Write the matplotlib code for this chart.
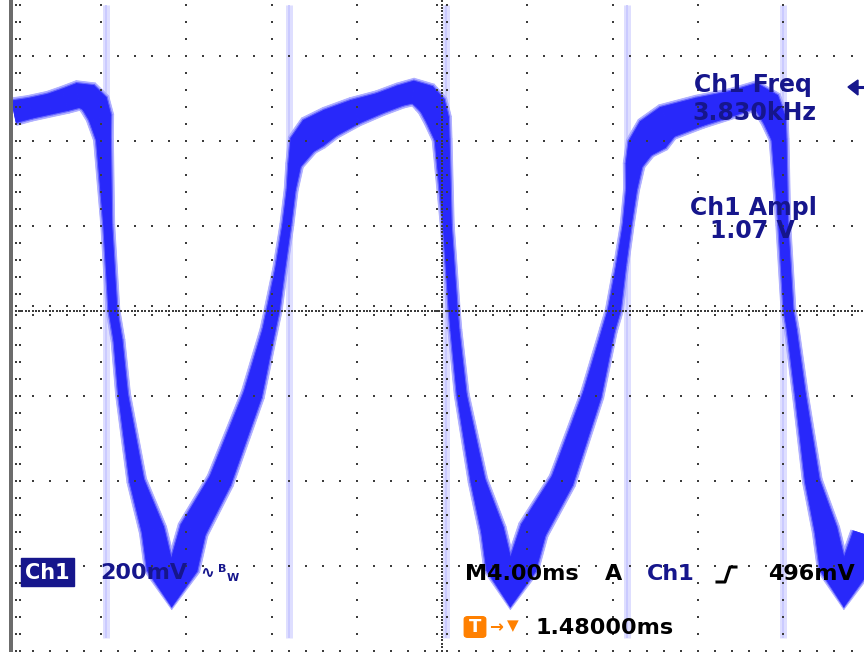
import numpy as np
import matplotlib
matplotlib.use("Agg")
import matplotlib.pyplot as plt
from matplotlib.collections import PolyCollection
from matplotlib.patches import Rectangle, Polygon, FancyBboxPatch
from matplotlib.lines import Line2D

# scope trace in divisions (4.00 ms/div, 200 mV/div)
trace_t = [-5.02, -4.83, -4.60, -4.42, -4.27, -4.15, -4.07, -4.01, -3.97, -3.92,
           -3.86, -3.80, -3.74, -3.58, -3.39, -3.31, -3.17, -3.03, -2.92, -2.60,
           -2.22, -2.03, -1.98, -1.90, -1.82, -1.77, -1.73, -1.64, -1.51, -1.31,
           -1.02, -0.73, -0.49, -0.34, -0.20, -0.11, -0.05, 0.00, 0.06, 0.13,
           0.15, 0.23, 0.42, 0.59, 0.67, 0.80, 0.94, 1.07, 1.41, 1.76,
           1.95, 2.02, 2.10, 2.17, 2.22, 2.25, 2.32, 2.47, 2.64, 3.02,
           3.41, 3.69, 3.81, 3.90, 3.95, 4.00, 4.06, 4.10, 4.20, 4.34,
           4.50, 4.58, 4.71, 4.85, 4.97]
trace_v = [2.34, 2.38, 2.43, 2.48, 2.53, 2.51, 2.43, 2.27, 2.01, 1.01,
           0.01, -0.35, -0.99, -2.00, -2.58, -3.01, -3.27, -3.01, -2.58, -2.00,
           -0.99, -0.23, 0.01, 0.48, 1.01, 1.42, 1.71, 1.95, 2.09, 2.21,
           2.34, 2.44, 2.53, 2.57, 2.51, 2.41, 2.24, 2.01, 1.01, 0.01,
           -0.23, -0.99, -2.00, -2.58, -3.01, -3.27, -3.01, -2.58, -2.00, -0.99,
           -0.23, 0.01, 0.54, 1.01, 1.42, 1.71, 1.91, 2.07, 2.22, 2.34,
           2.44, 2.53, 2.44, 2.24, 2.01, 1.01, 0.01, -0.23, -0.99, -2.00,
           -2.58, -3.01, -3.27, -3.01, -2.64]
# half width of the persistence band (screen px)
trace_spread = [11, 10, 10, 11, 12, 13, 13, 11, 7, 4,
                4, 4, 4.5, 7, 11, 13, 18, 14, 13, 11,
                9, 6, 6, 4.5, 4, 4, 6, 13, 16, 14,
                12, 10, 10, 11, 13, 13, 11, 7, 4, 4,
                4, 4.5, 7, 11, 13, 18, 14, 13, 11, 9,
                6, 6, 4.5, 4, 5, 8, 13, 18, 16, 14,
                12, 12, 13, 11, 7, 4.5, 4.5, 4.5, 5, 7,
                11, 13, 18, 14, 13]
# faint glitch traces
spike_t = [-3.94, -1.795, 0.046, 2.168, 3.996]

W, H = 864, 652
fig = plt.figure(figsize=(W / 100, H / 100), dpi=100)
ax = fig.add_axes([0, 0, 1, 1])
ax.set_xlim(-5.183, 4.946)
ax.set_ylim(-4.016, 3.654)
ax.axis("off")

navy = "#16168c"
orange = "#ff8000"
grid_c = "#3c3c3c"

# graticule
fine_x = np.arange(-5, 5.001, 0.2)
fine_y = np.arange(-4, 4.001, 0.2)
dot = dict(ls="none", marker="s", ms=1.5, mew=0, color=grid_c, zorder=6)
for gx in range(-5, 6):
    ax.plot(np.full_like(fine_y, gx), fine_y, **dot)
for gy in range(-4, 5):
    ax.plot(fine_x, np.full_like(fine_x, gy), **dot)
dense_x = np.arange(-5, 5.001, 0.04)
dense_y = np.arange(-4, 4.001, 0.04)
ax.plot(dense_x, np.zeros_like(dense_x), **dot)
ax.plot(np.zeros_like(dense_y), dense_y, **dot)
for off in (-0.055, 0.055):
    ax.plot(fine_x, np.full_like(fine_x, off), **dot)
    ax.plot(np.full_like(fine_y, off), fine_y, **dot)
ax.plot(np.full_like(fine_y, -4.95), fine_y, **dot)
ax.axvspan(-5.08, -5.025, color="#6c6c6c", lw=0, zorder=6)

# glitches
ax.vlines(spike_t, -3.85, 3.6, colors="#dedeff", lw=5, zorder=2)
ax.vlines(spike_t, -3.85, 3.6, colors="#c6c6ff", lw=1.2, zorder=2)


# persistence band: ribbon around the trace, widths in screen px
def band(spread_px, color, z):
    pts = ax.transData.transform(np.column_stack([trace_t, trace_v]))
    d = np.gradient(pts, axis=0)
    n = np.column_stack([-d[:, 1], d[:, 0]])
    n /= np.linalg.norm(n, axis=1)[:, None]
    lo = pts + n * spread_px[:, None]
    hi = pts - n * spread_px[:, None]
    inv = ax.transData.inverted()
    quads = [inv.transform(np.array([lo[i], lo[i + 1], hi[i + 1], hi[i]]))
             for i in range(len(pts) - 1)]
    ax.add_collection(PolyCollection(quads, facecolors=color, edgecolors=color,
                                     linewidths=0.6, zorder=z))


hw = np.asarray(trace_spread, dtype=float)
band(hw + 3, "#acacff", 3)
band(hw + 1.2, "#6464ff", 3.5)
band(hw, "#2828fa", 4)


def put(px, py, s, **kw):
    kw.setdefault("va", "baseline")
    kw.setdefault("zorder", 10)
    kw.setdefault("fontweight", "bold")
    fig.text(px / W, 1 - py / H, s, **kw)


def fig_xy(px, py):
    return (px / W, 1 - py / H)


# measurements
put(753, 92, "Ch1 Freq", color=navy, fontsize=17, ha="center")
put(754, 120, "3.830kHz", color=navy, fontsize=17, ha="center")
put(753, 215, "Ch1 Ampl", color=navy, fontsize=17, ha="center")
put(752, 238, "1.07 V", color=navy, fontsize=17, ha="center")
fig.patches.append(Polygon([fig_xy(848, 87), fig_xy(858, 80), fig_xy(858, 95)],
                           closed=True, transform=fig.transFigure, color=navy, zorder=10))
fig.lines.append(Line2D([856 / W, 864 / W], [1 - 87 / H] * 2, transform=fig.transFigure,
                        color=navy, lw=2.2, zorder=10))

# channel readout
fig.patches.append(Rectangle(fig_xy(20.7, 586), 53.3 / W, 28 / H,
                             transform=fig.transFigure, color=navy, zorder=9))
put(47.3, 579, "Ch1", color="white", fontsize=15, ha="center")
put(100, 579, "200mV", color=navy, fontsize=16)
put(207, 573, "\u223f", color=navy, fontsize=12, ha="center", va="center")
put(222, 569, "B", color=navy, fontsize=8, ha="center", va="center")
put(233, 578, "W", color=navy, fontsize=8, ha="center", va="center")

# timebase / trigger
put(465, 580, "M4.00ms", color="black", fontsize=16)
put(605, 580, "A", color="black", fontsize=16)
put(647, 580, "Ch1", color=navy, fontsize=16)
fig.lines.append(Line2D([717 / W, 725 / W, 730 / W, 736 / W],
                        [1 - 582 / H, 1 - 582 / H, 1 - 567 / H, 1 - 567 / H],
                        transform=fig.transFigure, color="black", lw=2.2, zorder=10))
put(768, 580, "496mV", color="black", fontsize=16)

fig.patches.append(FancyBboxPatch(fig_xy(466, 636), 18 / W, 18 / H,
                                  boxstyle="round,pad=0.002,rounding_size=0.004",
                                  transform=fig.transFigure, color=orange, zorder=9))
put(475, 627, "T", color="white", fontsize=13, ha="center", va="center")
put(496, 627, "\u2192", color=orange, fontsize=12, ha="center", va="center")
put(513, 626, "\u25bc", color=orange, fontsize=11, ha="center", va="center")
put(535, 634, "1.48000ms", color="black", fontsize=16)

fig.savefig("out.png", dpi=100, facecolor="white")
